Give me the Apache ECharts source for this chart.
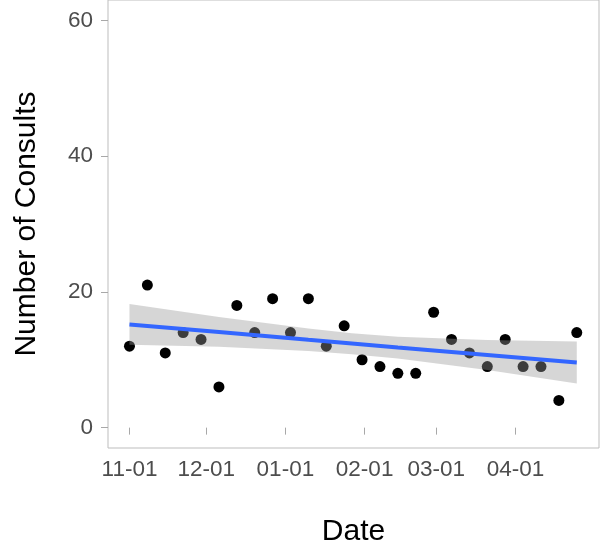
<!DOCTYPE html>
<html>
<head>
<meta charset="utf-8">
<script src="https://cdn.jsdelivr.net/npm/echarts@6/dist/echarts.min.js"></script>
<style>
  html, body { margin: 0; padding: 0; background: #fff; }
  #main { width: 600px; height: 546px; }
</style>
</head>
<body>
<div id="main"></div>
<script>
// weekly consult counts
const weekDates = [
  '2018-11-01', '2018-11-08', '2018-11-15', '2018-11-22', '2018-11-29',
  '2018-12-06', '2018-12-13', '2018-12-20', '2018-12-27',
  '2019-01-03', '2019-01-10', '2019-01-17', '2019-01-24', '2019-01-31',
  '2019-02-07', '2019-02-14', '2019-02-21', '2019-02-28',
  '2019-03-07', '2019-03-14', '2019-03-21', '2019-03-28',
  '2019-04-04', '2019-04-11', '2019-04-18', '2019-04-25'
];
const consults = [12, 21, 11, 14, 13, 6, 18, 14, 19, 14, 19, 12, 15, 10, 9, 8, 8, 17, 13, 11, 9, 13, 9, 9, 4, 14];

// linear fit + confidence band
const fitDates = ['2018-11-01', '2018-12-06', '2019-01-10', '2019-01-27', '2019-02-14', '2019-03-21', '2019-04-25'];
const fitValues = [15.2, 14.1, 12.95, 12.4, 11.8, 10.7, 9.6];
const bandLower = [12.2, 11.9, 11.3, 10.8, 10.2, 8.5, 6.5];
const bandUpper = [18.2, 16.3, 14.6, 13.9, 13.4, 12.9, 12.7];

const monthTicks = ['2018-11-01', '2018-12-01', '2019-01-01', '2019-02-01', '2019-03-01', '2019-04-01'];
const yTicks = [0, 20, 40, 60];

// timestamp from 'YYYY-MM-DD'
const ts = (s) => {
  const p = s.split('-').map(Number);
  return Date.UTC(p[0], p[1] - 1, p[2]);
};
const DAY = 86400000;
const pad = (n) => (n < 10 ? '0' + n : '' + n);

const chartDom = document.getElementById('main');
const myChart = echarts.init(chartDom);

const font = "'Liberation Sans', Arial, sans-serif";
const borderGrey = '#bdbdbd';

const option = {
  backgroundColor: '#ffffff',
  animation: false,
  grid: {
    left: 108, right: 1, top: 0, bottom: 98,
    outerBoundsMode: 'none',
    containLabel: false,
    show: true,
    borderColor: borderGrey,
    borderWidth: 1,
    backgroundColor: 'transparent'
  },
  xAxis: {
    type: 'value',
    min: ts('2018-11-01') - 8.4 * DAY,
    max: ts('2019-04-25') + 8.7 * DAY,
    name: 'Date',
    nameLocation: 'middle',
    nameGap: 69,
    nameTextStyle: { color: '#000', fontSize: 30, fontFamily: font },
    axisLine: { show: false },
    splitLine: { show: false },
    axisTick: {
      show: true,
      length: 7,
      customValues: monthTicks.map(ts),
      lineStyle: { color: '#a8a8a8' }
    },
    axisLabel: {
      customValues: monthTicks.map(ts),
      color: '#4d4d4d',
      fontSize: 22.5,
      fontFamily: font,
      margin: 10,
      formatter: (v) => {
        const d = new Date(v);
        return pad(d.getUTCMonth() + 1) + '-' + pad(d.getUTCDate());
      }
    }
  },
  yAxis: {
    type: 'value',
    min: -3,
    max: 63,
    name: 'Number of Consults',
    nameLocation: 'middle',
    nameGap: 66,
    nameTextStyle: { color: '#000', fontSize: 30, fontFamily: font },
    axisLine: { show: false },
    splitLine: { show: false },
    axisTick: {
      show: true,
      length: 7,
      customValues: yTicks,
      lineStyle: { color: '#a8a8a8' }
    },
    axisLabel: {
      customValues: yTicks,
      color: '#4d4d4d',
      fontSize: 22.5,
      fontFamily: font,
      margin: 15
    }
  },
  series: [
    {
      type: 'scatter',
      data: weekDates.map((d, i) => [ts(d), consults[i]]),
      symbolSize: 11,
      itemStyle: { color: '#000', opacity: 1 },
      z: 2
    },
    {
      // confidence band as one polygon
      type: 'custom',
      data: [[ts(fitDates[0]), fitValues[0]]],
      z: 3,
      silent: true,
      renderItem: (params, api) => {
        const pts = [];
        fitDates.forEach((d, i) => pts.push(api.coord([ts(d), bandUpper[i]])));
        for (let i = fitDates.length - 1; i >= 0; i--) {
          pts.push(api.coord([ts(fitDates[i]), bandLower[i]]));
        }
        return {
          type: 'polygon',
          shape: { points: pts },
          style: { fill: 'rgba(153,153,153,0.4)', stroke: null }
        };
      }
    },
    {
      type: 'line',
      data: fitDates.map((d, i) => [ts(d), fitValues[i]]),
      showSymbol: false,
      smooth: false,
      lineStyle: { color: '#3366FF', width: 4 },
      z: 4
    }
  ]
};

myChart.setOption(option);
</script>
</body>
</html>
